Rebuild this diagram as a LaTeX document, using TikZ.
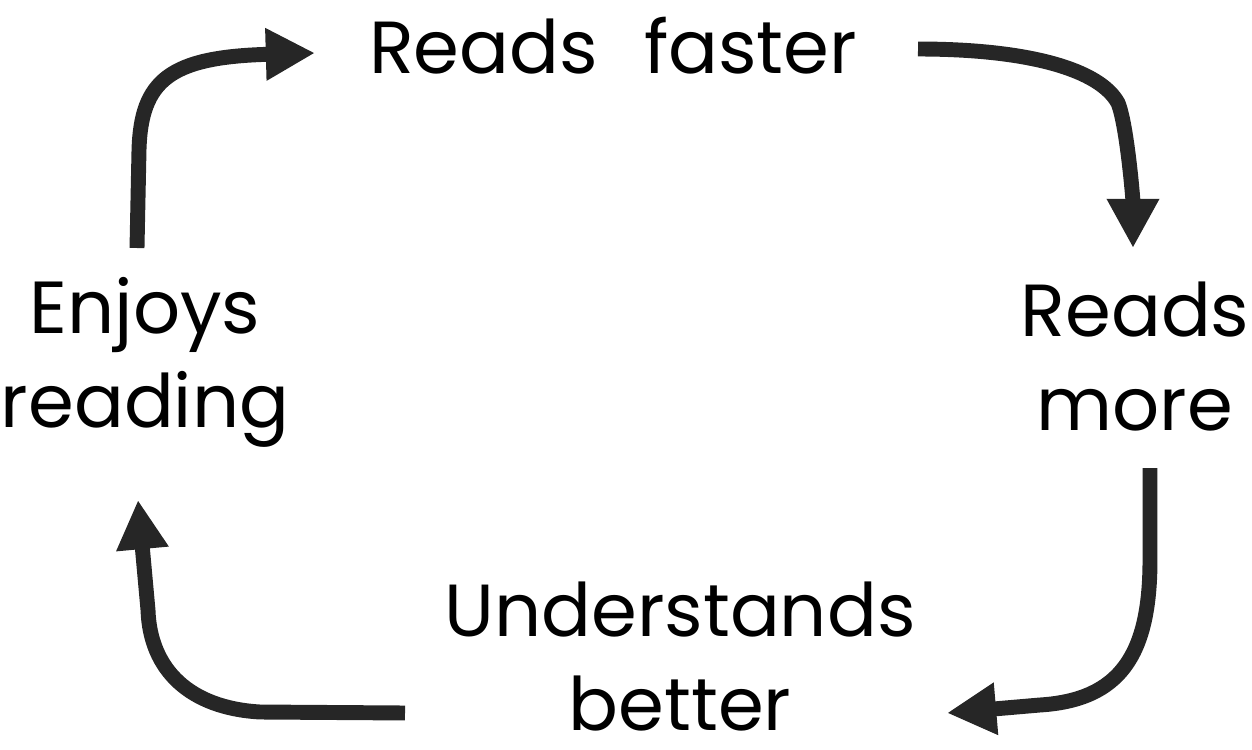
\documentclass[tikz,border=0pt]{standalone}
\usepackage{fontspec}
\setmainfont{Poppins}
\usetikzlibrary{arrows.meta}
\definecolor{arrowgray}{HTML}{262626}
\begin{document}
\begin{tikzpicture}[x=0.02cm,y=-0.02cm,
  label/.style={inner sep=0pt, align=center, anchor=base, text=black,
    font=\fontsize{42}{53}\selectfont},
  flow/.style={draw=arrowgray, line width=8.5pt, line cap=butt,
    -{Triangle[length=28pt,width=28pt]}}]
\useasboundingbox (0,0) rectangle (1252,750);
\node[label] (faster) at (613,74) {Reads \hspace{15pt}faster};
\node[label] (enjoy) at (145,427) {Enjoys\\reading};
\node[label] (more) at (1135,430) {Reads\\more};
\node[label, text depth=0pt] (under) at (680,730) {Understands\\better};
\coordinate (a1s) at (137,248);
\coordinate (a1e) at (315,53);
\coordinate (a2s) at (918,49);
\coordinate (a2e) at (1133,248);
\coordinate (a3s) at (1150,468);
\coordinate (a3e) at (947,713);
\coordinate (a4s) at (405,713);
\coordinate (a4e) at (138,500);
\draw[flow] (a1s) -- (139,150) .. controls (141,80) and (170,57) .. (a1e);
\draw[flow] (a2s) .. controls (1030,49) and (1100,70) .. (1118,103) .. controls (1127,125) and (1133,200) .. (a2e);
\draw[flow] (a3s) -- (1150,560) .. controls (1150,655) and (1120,700) .. (1040,705) -- (a3e);
\draw[flow] (a4s) -- (260,712) .. controls (190,708) and (150,670) .. (148,610) -- (a4e);
\end{tikzpicture}
\end{document}
